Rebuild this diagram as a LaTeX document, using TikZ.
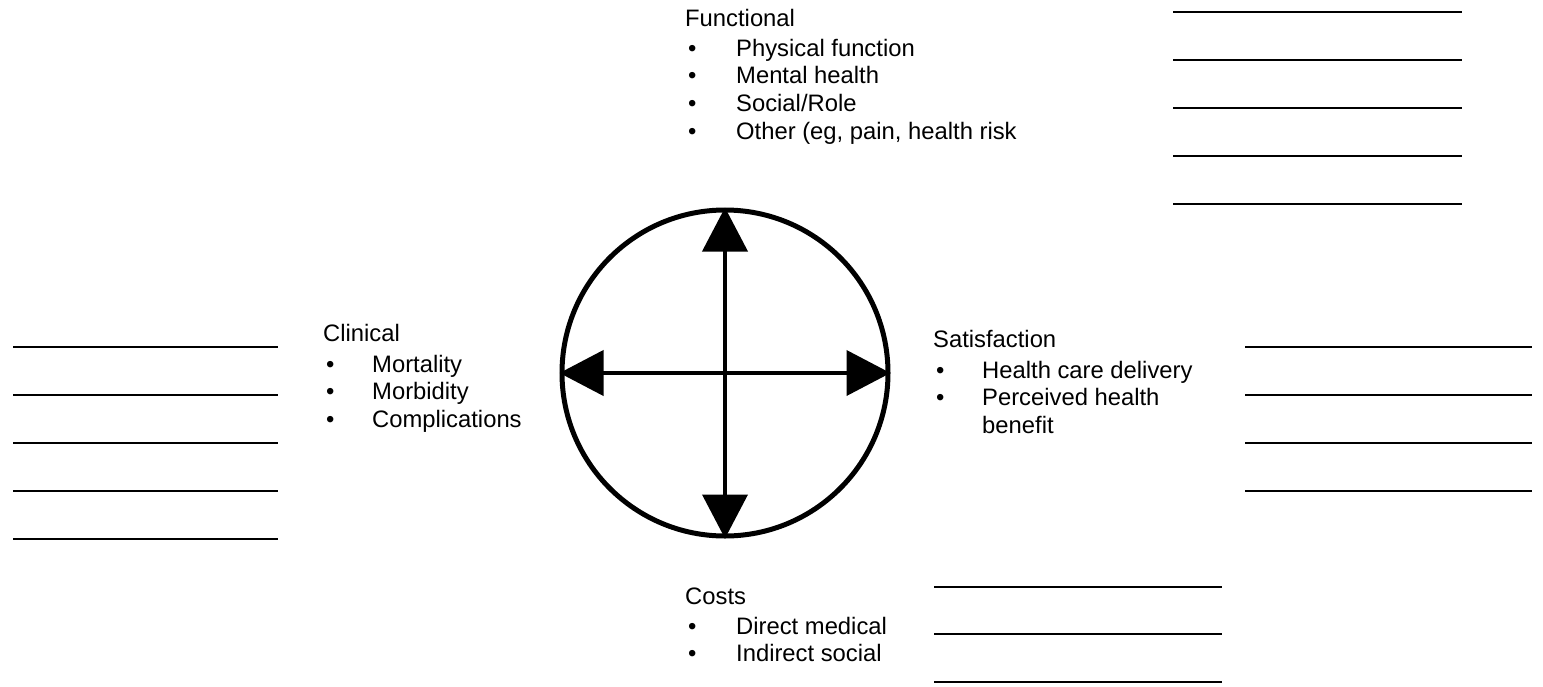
\documentclass[tikz,border=0pt]{standalone}
\usepackage{fontspec}
\setmainfont{Liberation Sans}
\usepackage{tikz}
\usetikzlibrary{arrows.meta, positioning}
\newcommand{\diagfont}{\fontsize{23.8}{27.7}\selectfont}
\tikzset{
  % Text styles
  headtext/.style={anchor=base west, inner sep=0pt, font=\diagfont},
  dottext/.style={anchor=base west, inner sep=0pt, font=\diagfont},
  itemtext/.style={anchor=base west, inner sep=0pt, font=\diagfont},
  % Line styles
  blankline/.style={line width=2.4pt},
  wheelarrow/.style={{Triangle[length=44pt, width=45pt]}-{Triangle[length=44pt, width=45pt]}, line width=4pt},
  % Node styles
  wheel/.style={circle, draw, line width=5pt, minimum size=326pt, inner sep=0pt}
}

\begin{document}
\begin{tikzpicture}[x=1pt, y=-1pt]
  % Page
  \fill[white] (0,0) rectangle (1543,686);

  % Outcome wheel
  \node[wheel] (wheel) at (725,373) {};
  \draw[wheelarrow] (wheel.west) -- (wheel.east);
  \draw[wheelarrow] (wheel.north) -- (wheel.south);

  % Functional
  \node[headtext] (func) at (685,26) {Functional};
  \foreach \txt [count=\i] in {Physical function, Mental health, Social/Role, {Other (eg, pain, health risk}} {
    \node[dottext] (funcdot\i) at (688,{56+(\i-1)*27.7}) {\textbullet};
    \node[itemtext] (funcitem\i) at (736,{56+(\i-1)*27.7}) {\txt};
  }

  % Clinical
  \node[headtext] (clin) at (323,341) {Clinical};
  \foreach \txt [count=\i] in {Mortality, Morbidity, Complications} {
    \node[dottext] (clindot\i) at (326,{372+(\i-1)*27.7}) {\textbullet};
    \node[itemtext] (clinitem\i) at (372,{372+(\i-1)*27.7}) {\txt};
  }

  % Satisfaction
  \node[headtext] (sat) at (933,347) {Satisfaction};
  \foreach \txt [count=\i] in {Health care delivery, Perceived health} {
    \node[dottext] (satdot\i) at (936,{378+(\i-1)*27.7}) {\textbullet};
    \node[itemtext] (satitem\i) at (982,{378+(\i-1)*27.7}) {\txt};
  }
  \node[itemtext] (satmore) at (982,433.4) {benefit};

  % Costs
  \node[headtext] (cost) at (685,604) {Costs};
  \foreach \txt [count=\i] in {Direct medical, Indirect social} {
    \node[dottext] (costdot\i) at (688,{634+(\i-1)*27.7}) {\textbullet};
    \node[itemtext] (costitem\i) at (736,{634+(\i-1)*27.7}) {\txt};
  }

  % Blank lines
  \foreach \y in {12,60,108,156,204} \draw[blankline] (1173,\y) -- (1462,\y);
  \foreach \y in {347,395,443,491,539} \draw[blankline] (13,\y) -- (278,\y);
  \foreach \y in {347,395,443,491} \draw[blankline] (1245,\y) -- (1532,\y);
  \foreach \y in {587,634,682} \draw[blankline] (934,\y) -- (1222,\y);
\end{tikzpicture}
\end{document}
